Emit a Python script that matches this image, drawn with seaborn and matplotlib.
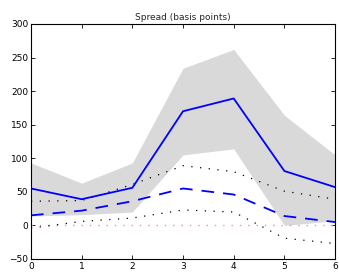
import numpy as np
import pandas as pd
import matplotlib
matplotlib.use("Agg")
import matplotlib.pyplot as plt
import seaborn as sns

# values (basis points)
horizon = [0, 1, 2, 3, 4, 5, 6]
band_upper = [93, 63, 93, 234, 262, 164, 105]
band_lower = [14, 16, 20, 105, 114, 0, 7]
median = [55, 39, 56, 170, 189, 81, 57]
mean_path = [15, 22, 36, 55, 46, 14, 5]
dot_upper = [36, 37, 61, 89, 80, 51, 39]
dot_lower = [-4, 6, 11, 23, 20, -19, -27]
zero_line = [0, 0, 0, 0, 0, 0, 0]

df = pd.DataFrame({"h": horizon, "median": median, "mean": mean_path,
                   "up": dot_upper, "lo": dot_lower, "zero": zero_line})

sns.set_style("ticks")
plt.rcParams["font.family"] = ["DejaVu Sans"]

fig = plt.figure(figsize=(3.39, 2.72), dpi=100)
ax = fig.add_axes([0.0914, 0.0478, 0.8970, 0.8642])

ax.fill_between(horizon, band_lower, band_upper, color="#d9d9d9", linewidth=0)
sns.lineplot(data=df, x="h", y="zero", ax=ax, color="#ff8f8f", lw=1.0,
             linestyle=(0, (1, 5)))
sns.lineplot(data=df, x="h", y="up", ax=ax, color="black", lw=0.9,
             linestyle=(0, (1, 6)))
sns.lineplot(data=df, x="h", y="lo", ax=ax, color="black", lw=0.9,
             linestyle=(0, (1, 6)))
sns.lineplot(data=df, x="h", y="mean", ax=ax, color="blue", lw=1.3,
             linestyle=(0, (7, 5)))
sns.lineplot(data=df, x="h", y="median", ax=ax, color="blue", lw=1.3)

ax.set_xlim(0, 6)
ax.set_ylim(-50, 300)
ax.set_xticks(range(0, 7))
ax.set_yticks(range(-50, 301, 50))
ax.set_xlabel("")
ax.set_ylabel("")
ax.set_title("Spread (basis points)", fontsize=6.5, pad=3)
ax.tick_params(direction="in", length=3, width=0.6, labelsize=6.5,
               top=True, right=True, pad=2, colors="black")
for s in ax.spines.values():
    s.set_visible(True)
    s.set_linewidth(0.8)
    s.set_color("black")

fig.savefig("out.png", dpi=100)
